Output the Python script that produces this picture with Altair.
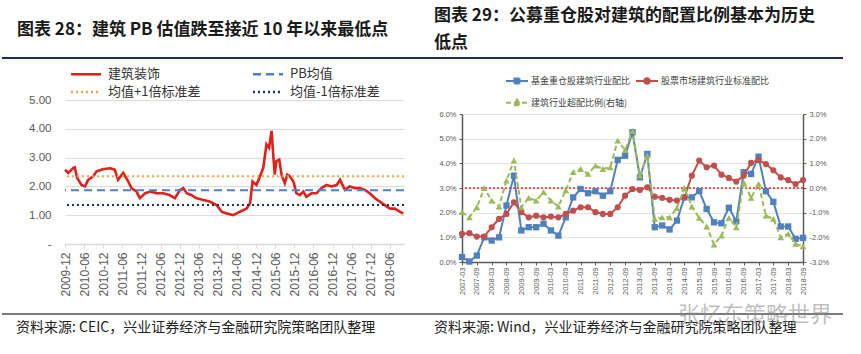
import altair as alt
import pandas as pd

# ================= Left chart: 建筑 PB =================
left_title = "图表 28：建筑 PB 估值跌至接近 10 年以来最低点"
left_source = "资料来源: CEIC，兴业证券经济与金融研究院策略团队整理"
left_series = ["建筑装饰", "PB均值", "均值+1倍标准差", "均值-1倍标准差"]
left_colors = ["#e0201b", "#4f81bd", "#f4a24e", "#1f3557"]
left_dashes = [[1, 0], [8, 5], [2, 3], [2, 3]]
left_tick_labels = ["2009-12", "2010-06", "2010-12", "2011-06", "2011-12", "2012-06",
                    "2012-12", "2013-06", "2013-12", "2014-06", "2014-12", "2015-06",
                    "2015-12", "2016-06", "2016-12", "2017-06", "2017-12", "2018-06"]
left_y_ticks = [0, 1, 2, 3, 4, 5]
pb_dates = ["2009-12-01", "2010-01-01", "2010-02-19", "2010-03-04", "2010-03-28", "2010-05-07",
            "2010-06-10", "2010-07-10", "2010-08-28", "2010-09-28", "2010-12-01", "2011-02-04",
            "2011-03-22", "2011-04-22", "2011-06-10", "2011-07-28", "2011-08-28", "2011-10-16",
            "2011-11-16", "2012-01-04", "2012-02-22", "2012-04-25", "2012-06-28", "2012-08-28",
            "2012-10-16", "2012-12-04", "2013-01-04", "2013-02-07", "2013-03-22", "2013-05-10",
            "2013-07-13", "2013-09-16", "2013-11-19", "2014-01-07", "2014-02-22", "2014-04-25",
            "2014-06-28", "2014-09-01", "2014-10-04", "2014-10-28", "2014-12-04", "2015-01-07",
            "2015-02-07", "2015-03-10", "2015-04-04", "2015-04-28", "2015-05-13", "2015-05-28",
            "2015-06-13", "2015-07-10", "2015-08-01", "2015-09-01", "2015-09-25", "2015-10-19",
            "2015-11-22", "2015-12-22", "2016-01-22", "2016-02-25", "2016-03-25", "2016-05-13",
            "2016-07-01", "2016-08-16", "2016-10-04", "2016-11-22", "2017-01-10", "2017-02-10",
            "2017-03-28", "2017-05-13", "2017-07-01", "2017-08-19", "2017-10-04", "2017-11-22",
            "2018-01-10", "2018-02-25", "2018-04-13", "2018-06-01", "2018-07-19", "2018-09-04",
            "2018-10-07"]
pb_values = [2.58, 2.47, 2.64, 2.66, 2.29, 2.05, 2.00, 2.23, 2.35, 2.52,
             2.60, 2.63, 2.58, 2.23, 2.47, 2.17, 1.94, 1.82, 1.59, 1.76,
             1.82, 1.76, 1.76, 1.70, 1.59, 1.88, 1.94, 1.76, 1.70, 1.59,
             1.53, 1.47, 1.35, 1.12, 1.06, 1.00, 1.12, 1.23, 1.41, 2.17,
             2.05, 2.35, 2.64, 3.46, 3.34, 3.93, 3.11, 2.41, 2.88, 2.93,
             2.41, 2.11, 2.41, 2.35, 2.17, 1.76, 1.70, 1.82, 1.64, 1.76,
             1.76, 1.94, 2.05, 2.00, 2.05, 2.23, 1.88, 2.00, 1.94, 1.94,
             1.88, 1.76, 1.59, 1.47, 1.35, 1.23, 1.23, 1.12, 1.06]
pb_ref_levels = [1.87, 2.35, 1.35]

# ================= Right chart: 配置比例 =================
right_title_1 = "图表 29：公募重仓股对建筑的配置比例基本为历史"
right_title_2 = "低点"
right_source = "资料来源: Wind，兴业证券经济与金融研究院策略团队整理"
watermark = "张忆东策略世界"
right_series = ["基金重仓股建筑行业配比", "股票市场建筑行业标准配比", "建筑行业超配比例(右轴)"]
right_colors = ["#4f81bd", "#c0504d", "#9bbb59"]
right_shapes = ["square", "circle", "triangle-up"]
right_dashes = [[1, 0], [1, 0], [5, 3]]
# legend glyphs: short line with the series marker in its middle
right_legend_glyphs = ["M-4.4,0H4.4M-1,-1H1V1H-1Z",
                       "M-4.4,0H4.4M-1.1,0A1.1,1.1,0,1,0,1.1,0A1.1,1.1,0,1,0,-1.1,0Z",
                       "M-4.4,0H4.4M0,-1.3L1.3,1L-1.3,1Z"]
quarters = ["2007-03", "2007-06", "2007-09", "2007-12", "2008-03", "2008-06", "2008-09", "2008-12",
            "2009-03", "2009-06", "2009-09", "2009-12", "2010-03", "2010-06", "2010-09", "2010-12",
            "2011-03", "2011-06", "2011-09", "2011-12", "2012-03", "2012-06", "2012-09", "2012-12",
            "2013-03", "2013-06", "2013-09", "2013-12", "2014-03", "2014-06", "2014-09", "2014-12",
            "2015-03", "2015-06", "2015-09", "2015-12", "2016-03", "2016-06", "2016-09", "2016-12",
            "2017-03", "2017-06", "2017-09", "2017-12", "2018-03", "2018-06", "2018-09"]
fund_alloc = [0.20, 0.02, 0.26, 1.00, 0.87, 1.00, 2.29, 3.50, 1.28, 1.41, 1.41, 1.55,
              1.28, 1.07, 1.81, 2.62, 2.96, 2.79, 2.87, 2.69, 2.87, 4.14, 4.31, 5.26,
              3.43, 4.38, 1.41, 1.48, 1.32, 1.68, 2.62, 2.62, 2.88, 2.15, 1.61, 1.57,
              2.20, 1.65, 3.64, 3.57, 4.27, 2.87, 2.44, 1.44, 1.44, 0.94, 0.98]
market_alloc = [1.14, 1.17, 1.03, 1.03, 1.41, 1.75, 1.95, 2.42, 2.02, 1.81, 1.88, 1.81,
                1.84, 1.81, 1.95, 2.08, 2.22, 2.22, 2.02, 1.95, 1.95, 2.22, 2.69, 2.96,
                2.92, 3.03, 2.65, 2.60, 2.52, 2.49, 2.62, 3.50, 4.11, 3.84, 3.91, 3.54,
                3.41, 3.26, 3.50, 4.02, 4.14, 3.97, 3.72, 3.43, 3.32, 3.16, 3.32]
over_alloc = [-0.98, -1.19, -0.78, 0.00, -0.51, -0.75, 0.30, 1.11, -0.78, -0.40, -0.51, -0.17,
              -0.51, -0.75, -0.10, 0.64, 0.77, 0.57, 0.91, 0.77, 0.84, 1.92, 1.54, 2.30,
              0.50, 1.31, -1.25, -1.19, -1.19, -0.81, 0.00, -0.75, -1.21, -1.56, -2.29, -1.93,
              -1.21, -1.59, 0.23, -0.40, 0.17, -1.12, -1.25, -2.00, -1.86, -2.26, -2.37]
right_left_ticks = [0, 1, 2, 3, 4, 5, 6]
right_right_ticks = [-3, -2, -1, 0, 1, 2, 3]
right_ref_level = [3.0]

# ================= Layout constants =================
FONT = "Noto Sans CJK SC"
AXF = "Liberation Sans"
LW, LH = 339, 144
RW, RH = 341, 162
R_TOP = 14
ONE = pd.DataFrame({"k": [0]})


def text_layer(txt, x, y, size, weight="normal", color="#1a1a1a", baseline="alphabetic", opacity=1.0):
    return alt.Chart(ONE).mark_text(
        align="left", baseline=baseline, font=FONT, fontSize=size, fontWeight=weight,
        color=color, opacity=opacity
    ).encode(x=alt.value(x), y=alt.value(y), text=alt.value(txt))


def hrule(x1, x2, y, color, width):
    return alt.Chart(ONE).mark_rule(color=color, strokeWidth=width).encode(
        x=alt.value(x1), x2=alt.value(x2), y=alt.value(y))


# ---------------- Left panel ----------------
pb_df = pd.DataFrame({"date": pb_dates, "pb": pb_values, "series": left_series[0]})
ref_df = pd.DataFrame({"pb": pb_ref_levels, "series": left_series[1:]})

left_legend = alt.Legend(
    title=None, orient="none", legendX=14.5, legendY=-32.5, columns=2, direction="horizontal",
    symbolType="M-6,0H6", symbolSize=25, symbolStrokeWidth=2.5, symbolOffset=0,
    labelFont=FONT, labelFontSize=13, labelColor="#333333", labelOffset=15.5,
    columnPadding=47, rowPadding=4, padding=0)
l_color = alt.Color("series:N", scale=alt.Scale(domain=left_series, range=left_colors), legend=left_legend)
l_dash = alt.StrokeDash("series:N", scale=alt.Scale(domain=left_series, range=left_dashes), legend=left_legend)

x_left = alt.X(
    "date:T", title=None,
    scale=alt.Scale(type="utc", domain=[alt.DateTime(year=2009, month=12, date=1, utc=True),
                                        alt.DateTime(year=2018, month=10, date=14, utc=True)]),
    axis=alt.Axis(values=[alt.DateTime(year=int(s[:4]), month=int(s[5:7]), date=1, utc=True)
                          for s in left_tick_labels], tickCount=40,
                  labelExpr="utcFormat(datum.value, '%Y-%m')", labelAngle=-90, labelOverlap=False,
                  labelFont=AXF, labelFontSize=12, labelColor="#595959",
                  domainColor="#d9d9d9", domainWidth=1.5, tickColor="#d9d9d9", tickSize=4,
                  labelPadding=4, grid=False))
y_left = alt.Y(
    "pb:Q", title=None, scale=alt.Scale(domain=[0, 5], nice=False),
    axis=alt.Axis(values=left_y_ticks, tickCount=20,
                  labelExpr="datum.value == 0 ? '-' : format(datum.value, '.2f')",
                  labelOverlap=False, domain=False, ticks=False, grid=True, gridColor="#dcdcdc",
                  labelFont=AXF, labelFontSize=11.5, labelColor="#595959", labelPadding=14))

ref_rules = alt.Chart(ref_df).mark_rule(strokeWidth=2).encode(y="pb:Q", color=l_color, strokeDash=l_dash)
pb_line = alt.Chart(pb_df).mark_line(strokeWidth=2.6).encode(x=x_left, y=y_left, color=l_color, strokeDash=l_dash)

left_panel = alt.layer(
    pb_line, ref_rules,
    hrule(-64, -63.5, -99, "#ffffff", 0.5),
    text_layer(left_title, -48, -65.5, 17, "bold"),
    hrule(-63, 366, -42, "#1f2d50", 2),
    hrule(-63, 366, 214, "#7a7a7a", 2),
    text_layer(left_source, -49, 228, 14, color="#222222", baseline="middle"),
).properties(width=LW, height=LH)

# ---------------- Right panel ----------------
fund_df = pd.DataFrame({"quarter": quarters, "value": fund_alloc})
market_df = pd.DataFrame({"quarter": quarters, "value": market_alloc})
over_df = pd.DataFrame({"quarter": quarters, "value": over_alloc})
rref_df = pd.DataFrame({"value": right_ref_level})

x_right = alt.X(
    "quarter:O", title=None, sort=quarters,
    scale=alt.Scale(type="point", padding=0, domain=quarters),
    axis=alt.Axis(values=quarters[::2], labelAngle=-90, labelOverlap=False, labelFont=AXF,
                  labelFontSize=7.5, labelColor="#595959", domainColor="#595959", domainWidth=1.5,
                  tickColor="#595959", tickSize=3, labelPadding=2, grid=False))
y_rl = alt.Y(
    "value:Q", title=None,
    scale=alt.Scale(domain=[0, 6], nice=False, zero=False, range=[RH, R_TOP]),
    axis=alt.Axis(values=right_left_ticks, tickCount=20, labelExpr="format(datum.value, '.1f') + '%'",
                  labelOverlap=False, domainColor="#595959", domainWidth=1.5, tickColor="#595959",
                  tickSize=3, grid=True, gridColor="#e4e4e4", labelFont=AXF, labelFontSize=7.5,
                  labelColor="#595959", labelPadding=3))
y_rr = alt.Y(
    "value:Q", title=None,
    scale=alt.Scale(domain=[-3, 3], nice=False, zero=False, range=[RH, R_TOP]),
    axis=alt.Axis(orient="right", values=right_right_ticks, tickCount=20, labelOverlap=False,
                  labelExpr="replace(format(datum.value, '.1f'), '\u2212', '-') + '%'",
                  domainColor="#595959", domainWidth=1.5, tickColor="#595959", tickSize=3,
                  grid=False, labelFont=AXF, labelFontSize=7.5, labelColor="#595959", labelPadding=3))


def series_layers(df, y_enc, color, shape, dash, size):
    line = alt.Chart(df).mark_line(color=color, strokeWidth=2, strokeDash=dash).encode(x=x_right, y=y_enc)
    pts = alt.Chart(df).mark_point(shape=shape, filled=True, color=color, size=size, opacity=1).encode(
        x=x_right, y="value:Q")
    return [line, pts]


r_ref = alt.Chart(rref_df).mark_rule(color="#ff2020", strokeDash=[2, 2], strokeWidth=1.5).encode(y=y_rl)
left_axis_part = alt.layer(
    r_ref,
    *series_layers(fund_df, "value:Q", right_colors[0], right_shapes[0], right_dashes[0], 40),
    *series_layers(market_df, "value:Q", right_colors[1], right_shapes[1], right_dashes[1], 38),
)
right_axis_part = alt.layer(
    *series_layers(over_df, y_rr, right_colors[2], right_shapes[2], right_dashes[2], 45))


def legend_layer(idx, field, legend_x):
    names = [right_series[i] for i in idx]
    leg = alt.Legend(title=None, orient="none", legendX=legend_x, legendY=-23.5, direction="vertical",
                     symbolSize=25, symbolStrokeWidth=2, symbolOpacity=1, symbolOffset=0,
                     labelFont=FONT, labelFontSize=9, labelColor="#404040", labelOffset=9.5,
                     rowPadding=7.7, padding=0)
    df = pd.DataFrame({field: names})
    return alt.Chart(df).mark_point(filled=True, opacity=0).encode(
        fill=alt.Fill(f"{field}:N", scale=alt.Scale(domain=names, range=[right_colors[i] for i in idx]), legend=leg),
        stroke=alt.Stroke(f"{field}:N", scale=alt.Scale(domain=names, range=[right_colors[i] for i in idx]), legend=leg),
        shape=alt.Shape(f"{field}:N", scale=alt.Scale(domain=names, range=[right_legend_glyphs[i] for i in idx]), legend=leg),
        strokeDash=alt.StrokeDash(f"{field}:N", scale=alt.Scale(domain=names, range=[right_dashes[i] for i in idx]), legend=leg),
    )


right_panel = alt.layer(
    left_axis_part, right_axis_part,
    legend_layer([0, 2], "col1", 50.5),
    legend_layer([1], "col2", 180.5),
    text_layer(right_title_1, -28, -79, 17, "bold"),
    text_layer(right_title_2, -28, -52, 17, "bold"),
    hrule(-31, 381, -42, "#1f2d50", 2),
    hrule(-31, 381, 214, "#7a7a7a", 2),
    text_layer(right_source, -28, 228, 14, color="#222222", baseline="middle"),
    text_layer(watermark, 216, 215, 22, color="#8c8c8c", baseline="middle", opacity=0.55),
).resolve_scale(y="independent", fill="independent", stroke="independent",
                shape="independent", strokeDash="independent").properties(width=RW, height=RH)

chart = alt.hconcat(left_panel, right_panel, spacing=58, bounds="flush").resolve_scale(
    color="independent", strokeDash="independent", fill="independent", shape="independent",
    stroke="independent"
).resolve_legend(
    color="independent", strokeDash="independent", fill="independent", shape="independent",
    stroke="independent"
).properties(padding=0, background="white").configure_view(stroke=None)

chart.save("out.html", embed_options={"renderer": "svg", "actions": False})
